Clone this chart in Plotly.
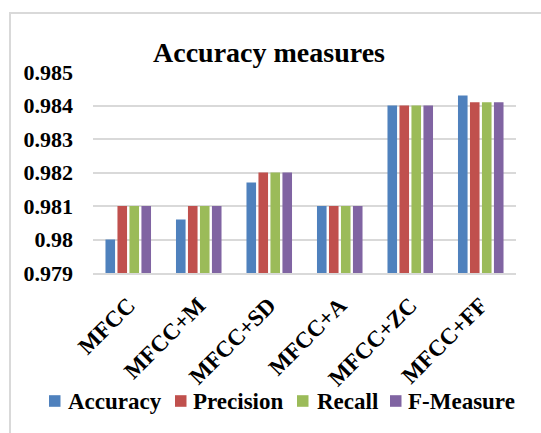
import plotly.graph_objects as go

categories = ["MFCC", "MFCC+M", "MFCC+SD", "MFCC+A", "MFCC+ZC", "MFCC+FF"]
accuracy = [0.9800, 0.9806, 0.9817, 0.9810, 0.9840, 0.9843]
precision = [0.9810, 0.9810, 0.9820, 0.9810, 0.9840, 0.9841]
recall = [0.9810, 0.9810, 0.9820, 0.9810, 0.9840, 0.9841]
f_measure = [0.9810, 0.9810, 0.9820, 0.9810, 0.9840, 0.9841]
y_ticks = [0.979, 0.98, 0.981, 0.982, 0.983, 0.984, 0.985]

series_names = ["Accuracy", "Precision", "Recall", "F-Measure"]
series_values = [accuracy, precision, recall, f_measure]
series_colors = ["#4f81bd", "#c0504d", "#9bbb59", "#8064a2"]

FONT = "Liberation Serif, Times New Roman, serif"
W, H = 541, 433
ML, MR, MT, MB = 93, 25, 72, 160
pw, ph = W - ML - MR, H - MT - MB


def px_x(px):
    return (px - ML) / pw


def px_y(py):
    return (H - MB - py) / ph


fig = go.Figure()
for name, vals, color in zip(series_names, series_values, series_colors):
    fig.add_trace(go.Bar(name=name, x=categories, y=vals,
                         marker_color=color, marker_line_width=0))

# outer chart border (runs past the right and bottom edges)
fig.add_shape(type="rect", xref="paper", yref="paper",
              x0=px_x(10), x1=px_x(W + 20), y0=px_y(H + 20), y1=px_y(13),
              line=dict(color="#d9d9d9", width=2), fillcolor="rgba(0,0,0,0)",
              layer="below")

# legend row: colour swatch followed by bold label
legend_swatch_left = [49, 175, 297, 390]
legend_text_left = [66, 191, 315, 406]
legend_mid = 401
for name, color, sx, tx in zip(series_names, series_colors,
                               legend_swatch_left, legend_text_left):
    fig.add_shape(type="rect", xref="paper", yref="paper",
                  x0=px_x(sx), x1=px_x(sx + 11.5),
                  y0=px_y(legend_mid + 5.8), y1=px_y(legend_mid - 5.8),
                  line=dict(width=0), fillcolor=color)
    fig.add_annotation(xref="paper", yref="paper", x=px_x(tx), y=px_y(legend_mid),
                       xanchor="left", yanchor="middle", showarrow=False,
                       text=f"<b>{name}</b>",
                       font=dict(family=FONT, size=23, color="black"))

fig.update_layout(
    width=W, height=H,
    margin=dict(l=ML, r=MR, t=MT, b=MB),
    paper_bgcolor="white", plot_bgcolor="white",
    barmode="group", bargap=0.32, bargroupgap=0.2,
    title=dict(text="<b>Accuracy measures</b>", x=269 / W,
               xanchor="center", y=1 - 52 / H, yanchor="middle",
               font=dict(family=FONT, size=28, color="black")),
    font=dict(family=FONT, color="black"),
    showlegend=False,
    yaxis=dict(range=[0.979, 0.985], tickvals=y_ticks,
               ticktext=[f"<b>{v:g}</b>" for v in y_ticks],
               tickfont=dict(family=FONT, size=22, color="black"),
               showgrid=True, gridcolor="#d9d9d9", gridwidth=1.5,
               zeroline=False, showline=False, ticks="",
               ticklabelstandoff=19, automargin=False),
    xaxis=dict(tickangle=-45,
               tickfont=dict(family=FONT, size=23, color="black", weight="bold"),
               showline=True, linecolor="#d9d9d9", linewidth=1.5, ticks="",
               ticklabelstandoff=8, automargin=False),
)

fig.write_html("out.html")
